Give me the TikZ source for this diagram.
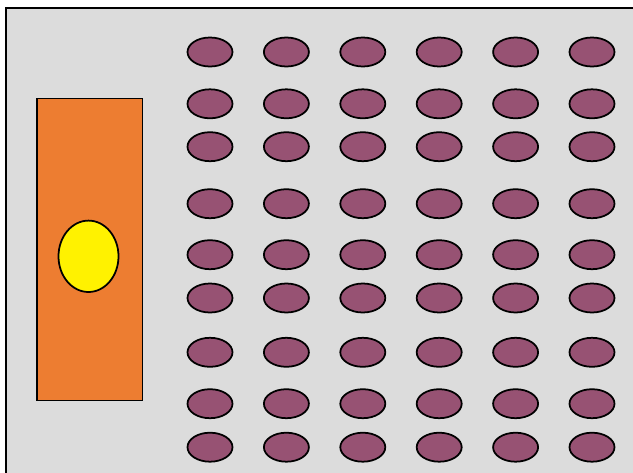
\documentclass[tikz,border=0pt]{standalone}
\usepackage{tikz}
\definecolor{fond}{RGB}{220,220,220}
\definecolor{estrade}{RGB}{237,125,49}
\definecolor{siege}{RGB}{151,82,115}
\tikzset{epais/.style={line width=1.7pt}, trait/.style={line width=1.5pt}}
\newcommand{\siege}[2]{\draw[trait, fill=siege] (#1,#2) ellipse (22.5 and 14.5)}
\newcommand{\rang}[1]{\foreach \x in {210,286.4,362.8,439.2,515.6,592} {\siege{\x}{#1};}}

\begin{document}
\begin{tikzpicture}[x=0.03cm, y=-0.03cm]
\clip (0,0) rectangle (633,473);
%Room
	\draw[epais, fill=fond] (6,8) rectangle (645,485);
%Stage
	\draw[trait, fill=estrade] (37,98.5) rectangle (142.5,400.5);
	\draw[trait, fill=yellow] (88.5,256.3) ellipse (30 and 35.7);
%First block of seats
	\rang{52};
	\rang{103.8};
	\rang{146.7};
%Second block
	\rang{203.7};
	\rang{254.7};
	\rang{298};
%Third block
	\rang{352.3};
	\rang{403.7};
	\rang{447.2};
\end{tikzpicture}
\end{document}
